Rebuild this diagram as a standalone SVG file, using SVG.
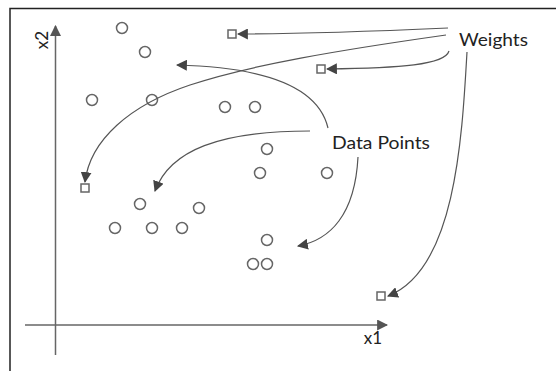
<svg xmlns="http://www.w3.org/2000/svg" width="556" height="371" viewBox="0 0 556 371">
<defs>
<marker id="ah" viewBox="0 0 10 10" refX="9" refY="5" markerWidth="11" markerHeight="11" markerUnits="userSpaceOnUse" orient="auto">
<path d="M0,0 L10,5 L0,10 Z" fill="#444"/>
</marker>
<marker id="ax" viewBox="0 0 10 10" refX="9" refY="5" markerWidth="11" markerHeight="11" markerUnits="userSpaceOnUse" orient="auto">
<path d="M0,0 L10,5 L0,10 Z" fill="#555"/>
</marker>
</defs>
<style>
.pt{fill:#fff;stroke:#666;stroke-width:1.5}
.sq{fill:#fff;stroke:#666;stroke-width:1.5}
.c{fill:none;stroke:#555;stroke-width:1.2;marker-end:url(#ah)}
.axis{stroke:#666;stroke-width:1.5;fill:none}
.lbl{font-family:Lato,"Open Sans","Liberation Sans",sans-serif;fill:#222}
</style>
<rect width="556" height="371" fill="#fff"/>
<path d="M10,371 V8.5 H556" fill="none" stroke="#222" stroke-width="1.5"/>
<g id="axes">
<line class="axis" x1="55.5" y1="355" x2="55.5" y2="26" marker-end="url(#ax)"/>
<line class="axis" x1="25" y1="325" x2="387" y2="325" marker-end="url(#ax)"/>
<text class="lbl" x="0" y="0" font-size="17" transform="translate(48,40) rotate(-90)" text-anchor="middle">x2</text>
<text class="lbl" x="373" y="344" font-size="17" text-anchor="middle">x1</text>
</g>
<g id="data-points">
<circle class="pt" cx="122" cy="28" r="5.5"/>
<circle class="pt" cx="145" cy="52" r="5.5"/>
<circle class="pt" cx="92" cy="100" r="5.5"/>
<circle class="pt" cx="152" cy="100" r="5.5"/>
<circle class="pt" cx="225" cy="107" r="5.5"/>
<circle class="pt" cx="255" cy="107" r="5.5"/>
<circle class="pt" cx="267" cy="149" r="5.5"/>
<circle class="pt" cx="260" cy="173" r="5.5"/>
<circle class="pt" cx="327" cy="173" r="5.5"/>
<circle class="pt" cx="140" cy="204" r="5.5"/>
<circle class="pt" cx="199" cy="208" r="5.5"/>
<circle class="pt" cx="115" cy="228" r="5.5"/>
<circle class="pt" cx="152" cy="228" r="5.5"/>
<circle class="pt" cx="182" cy="228" r="5.5"/>
<circle class="pt" cx="267" cy="240" r="5.5"/>
<circle class="pt" cx="253" cy="264" r="5.5"/>
<circle class="pt" cx="267" cy="264" r="5.5"/>
</g>
<g id="weights">
<rect class="sq" x="228" y="30" width="8" height="8"/>
<rect class="sq" x="317" y="65" width="8" height="8"/>
<rect class="sq" x="81" y="184" width="8" height="8"/>
<rect class="sq" x="377" y="292" width="8" height="8"/>
</g>
<g id="label-weights"><text class="lbl" x="459" y="46" font-size="18" textLength="69" lengthAdjust="spacingAndGlyphs">Weights</text></g>
<g id="label-data-points"><text class="lbl" x="332" y="149" font-size="18" textLength="98" lengthAdjust="spacingAndGlyphs">Data Points</text></g>
<g id="connectors">
<path class="c" d="M448,28 C380,31 300,34 238,34"/>
<path class="c" d="M446,35 C340,50 250,65 190,85 C130,105 90,140 85,182"/>
<path class="c" d="M449,51 C445,65 400,68 327,69"/>
<path class="c" d="M467,52 C462,140 455,270 388,296"/>
<path class="c" d="M328,128 C318,85 260,67 177,65"/>
<path class="c" d="M310,131 C220,131 170,150 155,191"/>
<path class="c" d="M358,157 C355,215 330,240 298,246"/>
</g>
</svg>
